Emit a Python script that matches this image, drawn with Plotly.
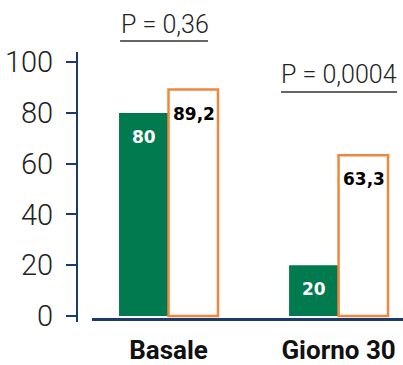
import plotly.graph_objects as go

categories = ["Basale", "Giorno 30"]
green_values = [80, 20]
orange_values = [89.2, 63.3]
green_labels = ["80", "20"]
orange_labels = ["89,2", "63,3"]
p_labels = ["P = 0,36", "P = 0,0004"]
y_ticks = [0, 20, 40, 60, 80, 100]

GREEN = "#007A4E"
ORANGE = "#F0873C"
NAVY = "#1B3A6E"
TXT = "#222222"

fig = go.Figure()
fig.add_bar(x=categories, y=green_values, name="green",
            marker=dict(color=GREEN, line=dict(width=0)), hoverinfo="skip")
fig.add_bar(x=categories, y=orange_values, name="orange",
            marker=dict(color="white", line=dict(color=ORANGE, width=2.5)), hoverinfo="skip")

annotations = []
for cat, v, lab in zip(categories, green_values, green_labels):
    annotations.append(dict(x=cat, y=v, xref="x", yref="y", text="<b>%s</b>" % lab,
                            showarrow=False, xshift=-25, yshift=-24, yanchor="middle",
                            font=dict(family="DejaVu Sans", size=17, color="white")))
for cat, v, lab in zip(categories, orange_values, orange_labels):
    annotations.append(dict(x=cat, y=v, xref="x", yref="y", text="<b>%s</b>" % lab,
                            showarrow=False, xshift=25, yshift=-24, yanchor="middle",
                            font=dict(family="DejaVu Sans", size=17, color="black")))

# p-value labels with underline
p_y = [1.100, 0.915]
p_shift = [-4, 0]
shapes = []
for cat, lab, py, sh in zip(categories, p_labels, p_y, p_shift):
    annotations.append(dict(x=cat, y=py, xref="x", yref="paper", text=lab, showarrow=False,
                            xshift=sh, yanchor="middle",
                            font=dict(family="Roboto", size=25, weight=300, color=TXT)))
underlines = [(-0.285, 0.232, 1.041), (0.662, 1.344, 0.852)]
for x0, x1, yy in underlines:
    shapes.append(dict(type="line", xref="x", yref="paper", x0=x0, x1=x1, y0=yy, y1=yy,
                       line=dict(color="#333333", width=1.5)))

fig.update_layout(
    width=403, height=365,
    margin=dict(l=77, r=0, t=52, b=43, pad=0, autoexpand=False),
    paper_bgcolor="white", plot_bgcolor="white",
    showlegend=False,
    barmode="group", bargap=0.418, bargroupgap=0,
    annotations=annotations, shapes=shapes,
    xaxis=dict(type="category", domain=[0.046, 1], range=[-0.45, 1.379],
               anchor="free", position=0.011, automargin=False,
               showline=True, linecolor=NAVY, linewidth=3,
               ticks="", showgrid=False, zeroline=False,
               tickfont=dict(family="Roboto", size=26, weight=700, color="#111111"),
               ticklabelstandoff=7),
    yaxis=dict(range=[-2.36, 104.0], tickvals=y_ticks, ticktext=[str(t) for t in y_ticks],
               anchor="free", position=0, automargin=False,
               showline=True, linecolor=NAVY, linewidth=2,
               ticks="outside", ticklen=10, tickwidth=1.5, tickcolor=NAVY,
               showgrid=False, zeroline=False,
               tickfont=dict(family="Roboto", size=29, weight=300, color=TXT),
               ticklabelstandoff=7),
)

fig.write_html("out.html", config={"displayModeBar": False},
               post_script="document.body.style.margin='0';document.body.style.overflow='hidden';")
